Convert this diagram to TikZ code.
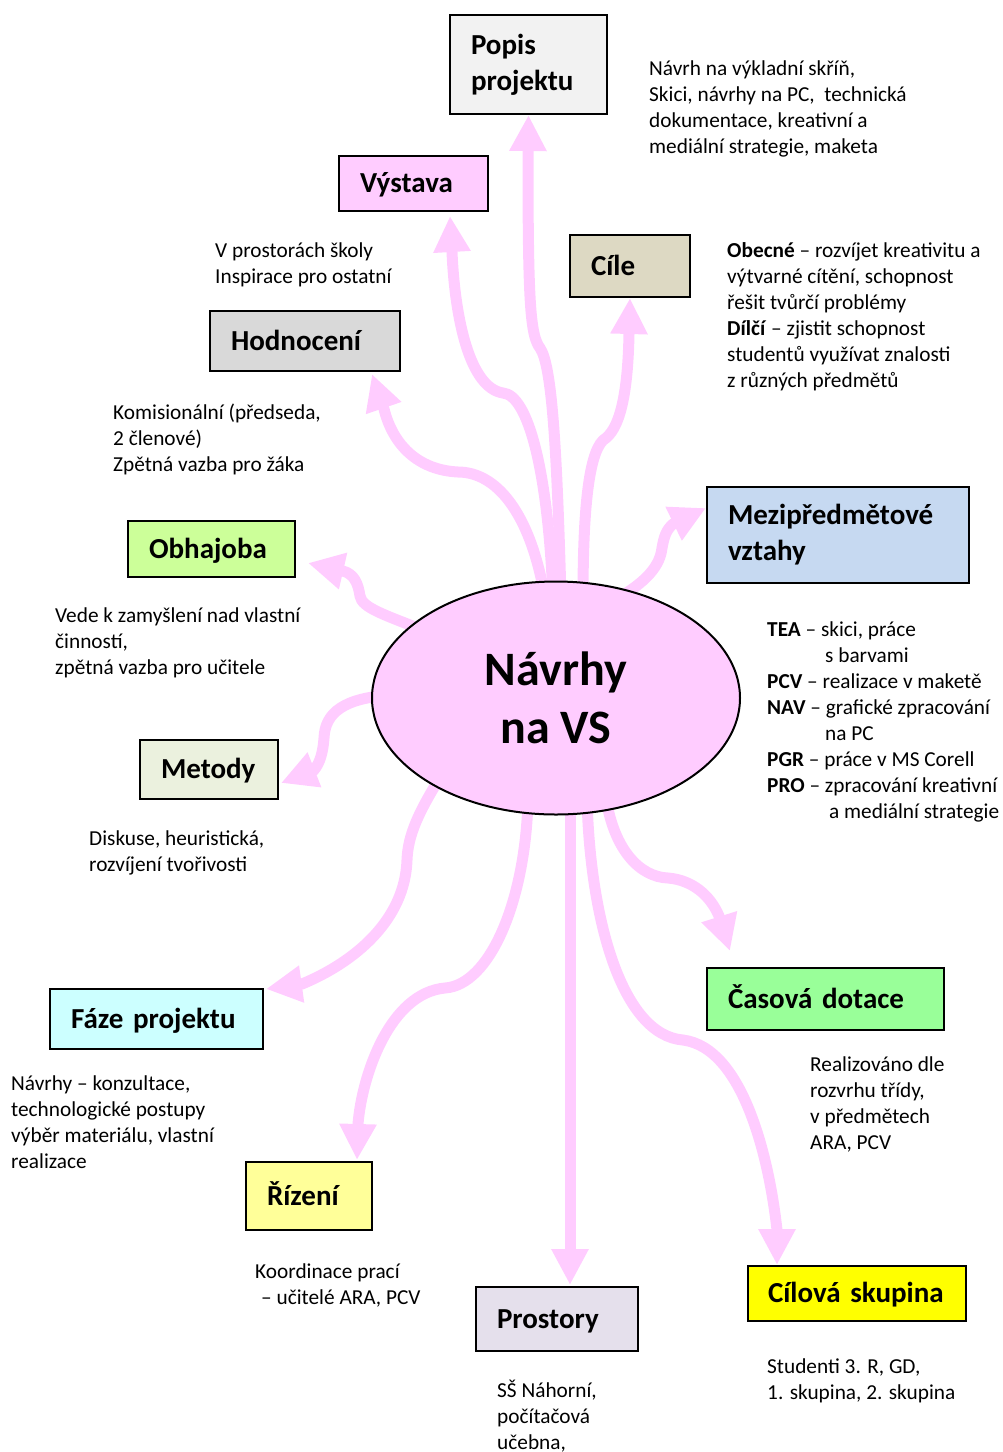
\documentclass[tikz,border=0pt]{standalone}
\usepackage{fontspec}
\setmainfont{Carlito}
\usetikzlibrary{shapes.geometric,arrows.meta,calc}
\pgfdeclarelayer{bg}
\pgfsetlayers{bg,main}
\definecolor{pinkA}{HTML}{FFCCFF}
\definecolor{cPopis}{HTML}{F2F2F2}
\definecolor{cCile}{HTML}{DDD9C3}
\definecolor{cHod}{HTML}{D9D9D9}
\definecolor{cMezi}{HTML}{C6D9F1}
\definecolor{cObh}{HTML}{CCFF99}
\definecolor{cMet}{HTML}{EBF1DE}
\definecolor{cFaze}{HTML}{CCFFFF}
\definecolor{cRiz}{HTML}{FFFF99}
\definecolor{cPros}{HTML}{E5E0EC}
\definecolor{cCas}{HTML}{99FF99}
\definecolor{cCil}{HTML}{FFFF00}
\newcommand\blk[1]{\begin{tabular}[t]{@{}l@{}}#1\end{tabular}}
\begin{document}
\begin{tikzpicture}[x=1pt,y=-1pt,
 box/.style={draw=black, line width=2pt, rectangle, inner xsep=21pt, inner ysep=0pt, align=left, font=\fontsize{29}{36}\selectfont\bfseries},
 oneline/.style={text height=24pt, text depth=5.4pt},
 txt/.style={anchor=base west, inner sep=0pt, font=\fontsize{21.3}{26}\selectfont},
 arr/.style={draw=pinkA, line width=11pt, -{Triangle[length=36pt,width=35pt]}}]
\useasboundingbox (0,0) rectangle (1003,1452);

% central ellipse
\node[ellipse, draw=black, line width=2pt, fill=pinkA, minimum width=368pt, minimum height=233pt, inner sep=0pt, align=center, font=\fontsize{48}{58}\selectfont\bfseries] (c) at (556,698) {Návrhy\\na VS};

% boxes
\node[box, fill=cPopis, text width=115pt, minimum height=99pt] (popis) at (528.5,64.5) {Popis\\projektu};
\node[box, oneline, fill=pinkA, text width=107pt, minimum height=55pt] (vystava) at (413.5,183.5) {Výstava};
\node[box, oneline, fill=cCile, text width=78pt, minimum height=62pt] (cile) at (630,266) {Cíle};
\node[box, oneline, fill=cHod, text width=148pt, minimum height=60pt] (hod) at (305,341) {Hodnocení};
\node[box, fill=cMezi, text width=220pt, minimum height=96pt] (mezi) at (838,535) {Mezipředmětové\\vztahy};
\node[box, oneline, fill=cObh, text width=125pt, minimum height=56pt] (obh) at (211.5,549) {Obhajoba};
\node[box, oneline, fill=cMet, text width=96pt, minimum height=59pt] (met) at (209,769.5) {Metody};
\node[box, oneline, fill=cFaze, text width=171pt, minimum height=60pt] (faze) at (156.5,1019) {Fáze projektu};
\node[box, oneline, fill=cRiz, text width=84pt, minimum height=68pt] (riz) at (309,1196) {Řízení};
\node[box, oneline, fill=cPros, text width=120pt, minimum height=64pt] (pros) at (557,1319) {Prostory};
\node[box, oneline, fill=cCas, text width=195pt, minimum height=62pt] (cas) at (825.5,999) {Časová dotace};
\node[box, oneline, fill=cCil, inner xsep=20pt, text width=178pt, minimum height=55pt] (cil) at (857,1293.5) {Cílová skupina};

% descriptions
\node[txt] (tpopis) at (649,75) {\blk{Návrh na výkladní skříň,\\Skici, návrhy na PC,\ \ technická\\dokumentace, kreativní a\\mediální strategie, maketa}};
\node[txt] (tvystava) at (215,257) {\blk{V prostorách školy\\Inspirace pro ostatní}};
\node[txt] (tcile) at (727,257) {\blk{\textbf{Obecné} – rozvíjet kreativitu a\\výtvarné cítění, schopnost\\řešit tvůrčí problémy\\\textbf{Dílčí} – zjistit schopnost\\studentů využívat znalosti\\z různých předmětů}};
\node[txt] (thod) at (113,419) {\blk{Komisionální (předseda,\\2 členové)\\Zpětná vazba pro žáka}};
\node[txt] (tobh) at (55,622) {\blk{Vede k zamyšlení nad vlastní\\činností,\\zpětná vazba pro učitele}};
\node[txt] (tmezi) at (767,636) {\blk{\textbf{TEA} – skici, práce\\\hspace*{58pt}s barvami\\\textbf{PCV} – realizace v maketě\\\textbf{NAV} – grafické zpracování\\\hspace*{58pt}na PC\\\textbf{PGR} – práce v MS Corell\\\textbf{PRO} – zpracování kreativní\\\hspace*{62pt}a mediální strategie}};
\node[txt] (tmet) at (89,845) {\blk{Diskuse, heuristická,\\rozvíjení tvořivosti}};
\node[txt] (tcas) at (810,1071) {\blk{Realizováno dle\\rozvrhu třídy,\\v předmětech\\ARA, PCV}};
\node[txt] (tfaze) at (11,1090) {\blk{Návrhy – konzultace,\\technologické postupy\\výběr materiálu, vlastní\\realizace}};
\node[txt] (triz) at (255,1278) {\blk{Koordinace prací\\\hspace*{6pt}– učitelé ARA, PCV}};
\node[txt] (tpros) at (497,1397) {\blk{SŠ Náhorní,\\počítačová\\učebna,}};
\node[txt] (tcil) at (767,1373) {\blk{Studenti 3. R, GD,\\1. skupina, 2. skupina}};

% connectors
\begin{pgfonlayer}{bg}
\draw[arr] ($(c.center)+(5,-100)$) .. controls (557,450) and (552,365) .. (540,348) .. controls (530,335) and (528,300) .. (528,152) -- (popis.south);
\draw[arr] ($(c.center)+(-3,-100)$) .. controls (548,470) and (528,395) .. (503,393) .. controls (470,388) and (455,320) .. (452,252) -- ($(vystava.south)+(36.5,4)$);
\draw[arr] ($(c.center)+(27,-100)$) .. controls (583,500) and (590,447) .. (606,438) .. controls (622,425) and (628,385) .. (629,334) -- (cile.south);
\draw[arr] ($(c.center)+(-11,-100)$) .. controls (530,510) and (495,472) .. (458,472) .. controls (418,470) and (393,445) .. (384,409) -- ($(hod.south)+(67,2)$);
\draw[arr] ($(c.center)+(55,-96)$) .. controls (648,582) and (660,565) .. (662,548) .. controls (664,537) and (666,530) .. (673,524) -- ($(mezi.west)+(0,-27)$);
\draw[arr] ($(c.center)+(-128,-66)$) .. controls (385,615) and (362,608) .. (360,596) .. controls (358,583) and (354,574) .. (343,571) -- ($(obh.east)+(12,14)$);
\draw[arr] ($(c.center)+(-165,-3)$) .. controls (345,698) and (325,712) .. (324,738) .. controls (323,752) and (320,763) .. (314,770) -- ($(met.east)+(2,13.5)$);
\draw[arr] ($(c.center)+(-110,70)$) .. controls (418,812) and (408,835) .. (407,860) .. controls (405,920) and (355,962) .. (302,984) -- ($(faze.north east)+(2,1)$);
\draw[arr] ($(c.center)+(-28,100)$) .. controls (526,900) and (490,985) .. (445,988) .. controls (390,993) and (362,1075) .. (358,1124) -- ($(riz.north)+(48,-1)$);
\draw[arr] ($(c.center)+(14,100)$) -- ($(pros.north)+(13,-1)$);
\draw[arr] ($(c.center)+(50,100)$) .. controls (614,850) and (640,877) .. (668,878) .. controls (692,880) and (710,895) .. (719,916) -- ($(cas.north west)+(24,-16)$);
\draw[arr] ($(c.center)+(31,100)$) .. controls (590,920) and (622,1035) .. (683,1040) .. controls (745,1048) and (770,1165) .. (777,1230) -- ($(cil.north west)+(30,0)$);
\end{pgfonlayer}
\end{tikzpicture}
\end{document}
